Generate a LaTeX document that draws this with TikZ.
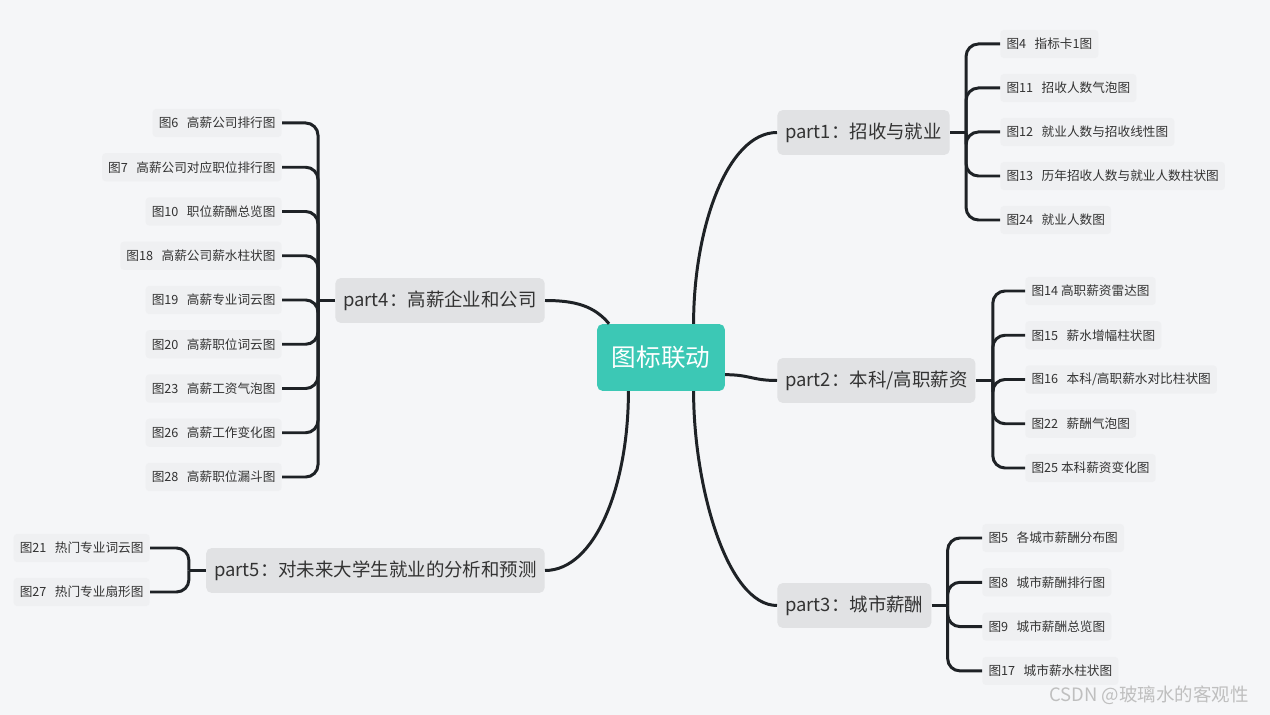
\documentclass[tikz,border=0pt]{standalone}
\usepackage{fontspec}
\newfontfamily\cjk{Noto Sans CJK SC}
\definecolor{bgcol}{HTML}{F5F6F8}
\definecolor{leafcol}{HTML}{EFF0F2}
\definecolor{partcol}{HTML}{E1E2E4}
\definecolor{rootcol}{HTML}{3CC8B5}
\definecolor{linecol}{HTML}{1E2226}
\definecolor{txtcol}{HTML}{333333}

\begin{document}
\begin{tikzpicture}[
                    x=0.02cm, y=-0.02cm,
                    root/.style={rectangle, fill=rootcol, text=white, rounded corners=3pt, minimum width=72.6pt, minimum height=38pt, font=\cjk\fontsize{14}{16}\selectfont},
                    part/.style={rectangle, fill=partcol, text=txtcol, rounded corners=3pt, inner xsep=4.5pt, minimum height=25.5pt, font=\cjk\fontsize{10.5}{12}\selectfont},
                    leaf/.style={rectangle, fill=leafcol, text=txtcol, rounded corners=2pt, inner xsep=3.5pt, minimum height=16pt, font=\cjk\fontsize{7.2}{9}\selectfont},
                    branch/.style={draw=linecol, line width=1.7pt, rounded corners=7pt},
                    link/.style={draw=linecol, line width=1.7pt}
                ]
                    % Background
                    \fill[bgcol] (0,0) rectangle (1270,715);

                    % Place nodes
                    \node [root] (c) at (661,357.5) {图标联动};
                    \node [part, anchor=west] (p1) at (777,132.5) {part1：招收与就业};
                    \node [part, anchor=west] (p2) at (777,380.5) {part2：本科/高职薪资};
                    \node [part, anchor=west] (p3) at (777,605.5) {part3：城市薪酬};
                    \node [part, anchor=east] (p4) at (545,300.5) {part4：高薪企业和公司};
                    \node [part, anchor=east] (p5) at (545,570.5) {part5：对未来大学生就业的分析和预测};

                    \foreach \t [count=\i] in {图4~~~指标卡1图, 图11~~~招收人数气泡图, 图12~~~就业人数与招收线性图, 图13~~~历年招收人数与就业人数柱状图, 图24~~~就业人数图}
                        \node [leaf, anchor=west] (a\i) at (1000,{44+44*(\i-1)}) {\t};
                    \foreach \t [count=\i] in {图14~高职薪资雷达图, 图15~~~薪水增幅柱状图, 图16~~~本科/高职薪水对比柱状图, 图22~~~薪酬气泡图, 图25~本科薪资变化图}
                        \node [leaf, anchor=west] (b\i) at (1025,{291+44.25*(\i-1)}) {\t};
                    \foreach \t [count=\i] in {图5~~~各城市薪酬分布图, 图8~~~城市薪酬排行图, 图9~~~城市薪酬总览图, 图17~~~城市薪水柱状图}
                        \node [leaf, anchor=west] (d\i) at (982,{538+44.3*(\i-1)}) {\t};
                    \foreach \t [count=\i] in {图6~~~高薪公司排行图, 图7~~~高薪公司对应职位排行图, 图10~~~职位薪酬总览图, 图18~~~高薪公司薪水柱状图, 图19~~~高薪专业词云图, 图20~~~高薪职位词云图, 图23~~~高薪工资气泡图, 图26~~~高薪工作变化图, 图28~~~高薪职位漏斗图}
                        \node [leaf, anchor=east] (e\i) at (282,{123+44.25*(\i-1)}) {\t};
                    \foreach \t [count=\i] in {图21~~~热门专业词云图, 图27~~~热门专业扇形图}
                        \node [leaf, anchor=east] (f\i) at (150,{548+44*(\i-1)}) {\t};

                    \node [text=black!25, font=\cjk\fontsize{10.5}{12}\selectfont] (mark) at (1149,695) {CSDN @玻璃水的客观性};

                    % Draw edges
                    \path [link] (c.46) .. controls +(0,-95) and +(-50,0) .. (p1.west);
                    \path [link] (c.-15) .. controls +(25,0) and +(-25,0) .. (p2.west);
                    \path [link] (c.-46) .. controls +(0,95) and +(-50,0) .. (p3.west);
                    \path [link] (c.147) .. controls +(-15,-18) and +(30,0) .. (p4.east);
                    \path [link] (c.-134) .. controls +(0,95) and +(50,0) .. (p5.east);

                    % Brackets
                    \path [link] (p1.east) -- ++(16,0) coordinate (j1);
                    \path [link] (p2.east) -- ++(17,0) coordinate (j2);
                    \path [link] (p3.east) -- ++(16,0) coordinate (j3);
                    \path [link] (p4.west) -- ++(-17,0) coordinate (j4);
                    \path [link] (p5.west) -- ++(-17,0) coordinate (j5);
                    \foreach \i in {1,...,5} \path [branch] (j1) |- (a\i.west);
                    \foreach \i in {1,...,5} \path [branch] (j2) |- (b\i.west);
                    \foreach \i in {1,...,4} \path [branch] (j3) |- (d\i.west);
                    \foreach \i in {1,...,9} \path [branch] (j4) |- (e\i.east);
                    \foreach \i in {1,2} \path [branch] (j5) |- (f\i.east);
            \end{tikzpicture}
\end{document}
